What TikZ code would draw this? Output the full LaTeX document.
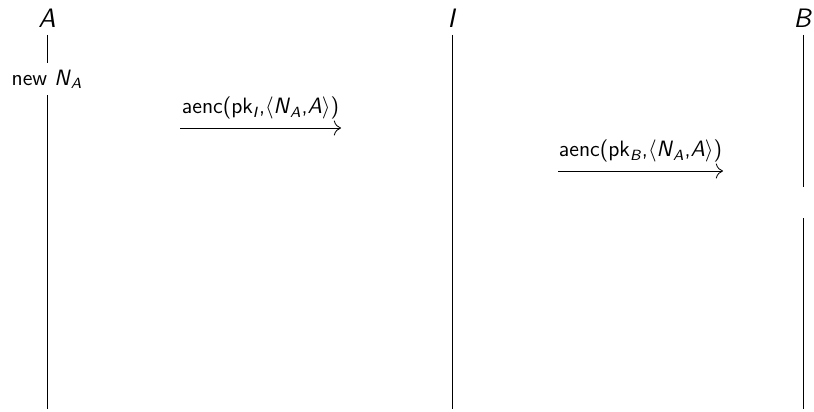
\documentclass[tikz,border=0pt]{standalone}
\usepackage{tikz}
\usetikzlibrary{positioning, arrows.meta}
\renewcommand{\familydefault}{\sfdefault}
\newcommand{\ag}[1]{\textsf{\itshape #1}}
\newcommand{\nonceA}{\ag{N}\textsubscript{\ag{A}}}

\begin{document}
\begin{tikzpicture}[>={To[scale=1.5]}, x=0.019cm, y=-0.019cm,
    role/.style={inner sep=1pt, font=\Large},
    life/.style={line width=0.5pt},
    msg/.style={->, line width=0.45pt}]
    \useasboundingbox (0,0) rectangle (814,411);

    % Rollen
    \node[role] (A) at (47,18) {\ag{A}};
    \node[role] (I) at (452,18) {\ag{I}};
    \node[role] (B) at (803,18) {\ag{B}};

    % Enden der Lebenslinien
    \coordinate (Astart) at (47,35);
    \coordinate (Istart) at (452,35);
    \coordinate (Bstart) at (803,35);
    \coordinate (Aend) at (47,409);
    \coordinate (Iend) at (452,409);
    \coordinate (Bend) at (803,409);
    \coordinate (Bcut1) at (803,187);
    \coordinate (Bcut2) at (803,218);

    % Aktion von A
    \node[inner sep=0pt, minimum height=0.61cm, font=\large] (newA) at (47,79) {new \nonceA};

    % Lebenslinien
    \draw[life] (Astart) -- (Astart |- newA.north);
    \draw[life] (Aend |- newA.south) -- (Aend);
    \draw[life] (Istart) -- (Iend);
    \draw[life] (Bstart) -- (Bcut1);
    \draw[life] (Bcut2) -- (Bend);

    % Nachrichten
    \coordinate (m1s) at (180,128);
    \coordinate (m1e) at (341,128);
    \draw[msg] (m1s) -- (m1e) node[midway, above=1pt, font=\large] (m1) {aenc(pk\textsubscript{\ag{I}},$\langle$\nonceA,\ag{A}$\rangle$)};
    \coordinate (m2s) at (558,171);
    \coordinate (m2e) at (723,171);
    \draw[msg] (m2s) -- (m2e) node[midway, above=1pt, font=\large] (m2) {aenc(pk\textsubscript{\ag{B}},$\langle$\nonceA,\ag{A}$\rangle$)};
\end{tikzpicture}
\end{document}
